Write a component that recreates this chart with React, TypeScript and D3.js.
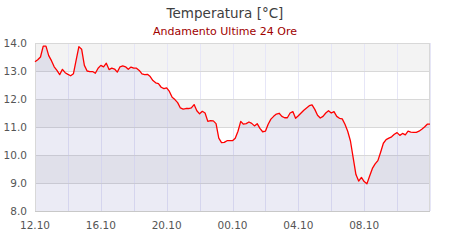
import React, { useEffect, useRef } from "react";
import * as d3 from "d3";

const title = "Temperatura [°C]";
const subtitle = "Andamento Ultime 24 Ore";

// start time 12:10, one reading every 10 minutes for 24 hours
const startTime = new Date(2024, 0, 1, 12, 10);
const stepMinutes = 10;

const temps: number[] = [
  13.33, 13.4, 13.5, 13.89, 13.89, 13.55, 13.37, 13.15, 13.02, 12.87,
  13.06, 12.94, 12.88, 12.83, 12.9, 13.39, 13.87, 13.78, 13.2, 13.0,
  12.98, 12.98, 12.92, 13.1, 13.2, 13.15, 13.28, 13.05, 13.1, 13.07,
  12.96, 13.15, 13.18, 13.15, 13.06, 13.14, 13.1, 13.1, 13.02, 12.9,
  12.87, 12.88, 12.8, 12.66, 12.58, 12.55, 12.42, 12.37, 12.4, 12.27,
  12.06, 11.98, 11.87, 11.68, 11.64, 11.66, 11.66, 11.68, 11.8, 11.58,
  11.47, 11.56, 11.5, 11.2, 11.23, 11.22, 11.12, 10.6, 10.44, 10.45,
  10.51, 10.51, 10.51, 10.6, 10.85, 11.2, 11.1, 11.12, 11.18, 11.13,
  11.04, 11.12, 10.95, 10.83, 10.85, 11.1, 11.28, 11.38, 11.46, 11.49,
  11.38, 11.33, 11.33, 11.5, 11.55, 11.31, 11.4, 11.5, 11.6, 11.68,
  11.76, 11.79, 11.63, 11.42, 11.32, 11.38, 11.5, 11.58, 11.5, 11.55,
  11.38, 11.31, 11.29, 11.1, 10.85, 10.5, 9.9, 9.3, 9.07, 9.2,
  9.05, 8.97, 9.25, 9.52, 9.68, 9.8, 10.1, 10.42, 10.55, 10.6,
  10.65, 10.74, 10.8, 10.7, 10.77, 10.72, 10.85, 10.82, 10.81, 10.81,
  10.85, 10.92, 11.0, 11.1, 11.1,
];

const yTicks = [8, 9, 10, 11, 12, 13, 14];
const xTickLabels = ["12.10", "16.10", "20.10", "00.10", "04.10", "08.10"];

const W = 450;
const H = 240;
const margin = { left: 35, right: 20, top: 43, bottom: 29 };

export default function App() {
  const ref = useRef<SVGSVGElement>(null);

  useEffect(() => {
    const svg = d3.select(ref.current);
    svg.selectAll("*").remove();

    const data = temps.map((v, i) => ({
      t: new Date(startTime.getTime() + i * stepMinutes * 60000),
      v,
    }));
    const endTime = new Date(startTime.getTime() + 24 * 3600000);

    const x = d3
      .scaleTime()
      .domain([startTime, endTime])
      .range([margin.left, W - margin.right]);
    const y = d3
      .scaleLinear()
      .domain([8, 14])
      .range([H - margin.bottom, margin.top]);

    const font = "DejaVu Sans, sans-serif";

    // plot bands
    const bands = [
      [13, 14, "#f3f3f3"],
      [12, 13, "#ffffff"],
      [11, 12, "#f3f3f3"],
      [10, 11, "#ffffff"],
      [9, 10, "#f3f3f3"],
      [8, 9, "#ffffff"],
    ] as const;
    svg
      .selectAll("rect.band")
      .data(bands)
      .join("rect")
      .attr("x", margin.left)
      .attr("width", W - margin.right - margin.left)
      .attr("y", (d) => y(d[1]))
      .attr("height", (d) => y(d[0]) - y(d[1]))
      .attr("fill", (d) => d[2]);

    // vertical grid lines every 2 hours
    const vTimes = d3.range(0, 13).map((h) => new Date(startTime.getTime() + h * 2 * 3600000));
    svg
      .selectAll("line.vgrid")
      .data(vTimes)
      .join("line")
      .attr("x1", (d) => Math.round(x(d)) + 0.5)
      .attr("x2", (d) => Math.round(x(d)) + 0.5)
      .attr("y1", margin.top)
      .attr("y2", H - margin.bottom)
      .attr("stroke", "#e6e6f7")
      .attr("stroke-width", 1);

    // horizontal grid lines
    svg
      .selectAll("line.hgrid")
      .data(yTicks)
      .join("line")
      .attr("x1", margin.left)
      .attr("x2", W - margin.right)
      .attr("y1", (d) => Math.round(y(d)) + 0.5)
      .attr("y2", (d) => Math.round(y(d)) + 0.5)
      .attr("stroke", "#d8d8d8")
      .attr("stroke-width", 1);

    // area
    const area = d3
      .area<{ t: Date; v: number }>()
      .x((d) => x(d.t))
      .y0(y(8))
      .y1((d) => y(d.v));
    svg
      .append("path")
      .datum(data)
      .attr("d", area)
      .attr("fill", "rgba(120,120,190,0.15)");

    // plot border
    svg
      .append("rect")
      .attr("x", margin.left + 0.5)
      .attr("y", margin.top + 0.5)
      .attr("width", W - margin.right - margin.left - 1)
      .attr("height", H - margin.bottom - margin.top)
      .attr("fill", "none")
      .attr("stroke", "#d8d8d8");

    // x axis line
    svg
      .append("line")
      .attr("x1", margin.left)
      .attr("x2", W - margin.right)
      .attr("y1", Math.round(y(8)) + 0.5)
      .attr("y2", Math.round(y(8)) + 0.5)
      .attr("stroke", "#c8c8c8");

    // line
    const line = d3
      .line<{ t: Date; v: number }>()
      .x((d) => x(d.t))
      .y((d) => y(d.v));
    svg
      .append("path")
      .datum(data)
      .attr("d", line)
      .attr("fill", "none")
      .attr("stroke", "#ff0000")
      .attr("stroke-width", 1.3)
      .attr("stroke-linejoin", "round");

    // y labels
    svg
      .selectAll("text.ylab")
      .data(yTicks)
      .join("text")
      .attr("x", 27)
      .attr("y", (d) => y(d) + 4)
      .attr("text-anchor", "end")
      .attr("font-family", font)
      .attr("font-size", 10.5)
      .attr("fill", "#555")
      .text((d) => d.toFixed(1));

    // x labels every 4 hours
    svg
      .selectAll("text.xlab")
      .data(xTickLabels)
      .join("text")
      .attr("x", (_d, i) => x(new Date(startTime.getTime() + i * 4 * 3600000)))
      .attr("y", 229)
      .attr("text-anchor", "middle")
      .attr("font-family", font)
      .attr("font-size", 10.5)
      .attr("fill", "#555")
      .text((d) => d);

    // title
    svg
      .append("text")
      .attr("x", 225)
      .attr("y", 18)
      .attr("text-anchor", "middle")
      .attr("font-family", font)
      .attr("font-size", 13.5)
      .attr("fill", "#3e3e3e")
      .text(title);

    svg
      .append("text")
      .attr("x", 225)
      .attr("y", 35)
      .attr("text-anchor", "middle")
      .attr("font-family", font)
      .attr("font-size", 11)
      .attr("fill", "#a00000")
      .text(subtitle);
  }, []);

  return (
    <svg
      ref={ref}
      width={W}
      height={H}
      style={{ position: "absolute", left: 0, top: 0, background: "#fff" }}
    />
  );
}
